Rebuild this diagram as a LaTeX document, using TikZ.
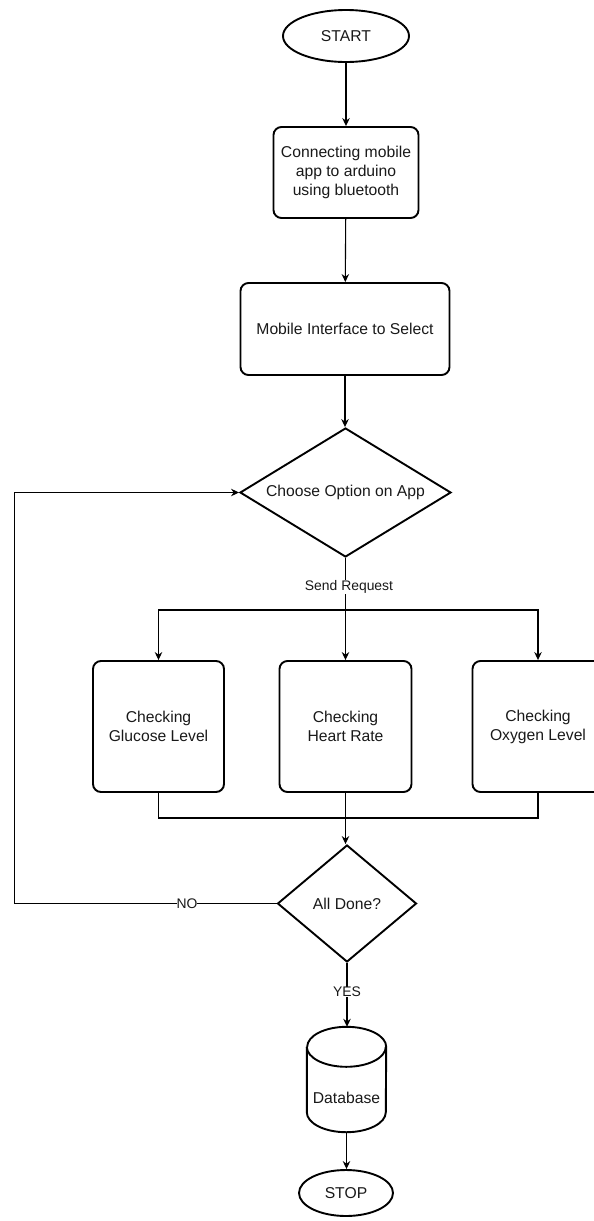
\documentclass[tikz,border=0pt]{standalone}
\usepackage{fontspec}
\setmainfont{Liberation Sans}
\usetikzlibrary{shapes.geometric,arrows.meta}
\begin{document}
\begin{tikzpicture}[x=1pt,y=-1pt,
  shapeline/.style={draw=black,line width=1.9pt},
  boxtext/.style={font=\fontsize{15.7}{19}\selectfont,align=center,text=black!90},
  rbox/.style={shapeline,boxtext,rectangle,rounded corners=8pt,inner sep=0pt},
  oval/.style={shapeline,boxtext,ellipse,inner sep=0pt},
  dia/.style={shapeline,boxtext,diamond,inner sep=0pt},
  conn/.style={draw=black,line width=1.1pt},
  arr/.style={conn,-{Stealth[length=8pt,width=7.5pt]}},
  elabel/.style={font=\fontsize{13.9}{16}\selectfont,fill=white,inner sep=0.5pt,text=black!90}
]
\useasboundingbox (0,0) rectangle (594,1221);
\clip (0,0) rectangle (594,1221);

\node[oval,minimum width=126pt,minimum height=52pt] (start) at (346,36) {START};
\node[rbox,minimum width=145pt,minimum height=91pt] (conn1) at (346,172.5) {Connecting mobile\\app to arduino\\using bluetooth};
\node[rbox,minimum width=209pt,minimum height=92pt] (mob) at (345,329) {Mobile Interface to Select};
\node[dia,aspect=1.64,minimum width=211pt,minimum height=129pt] (choose) at (345.5,492.5) {Choose Option on App};

\node[rbox,minimum width=131pt,minimum height=131pt] (glu) at (158.5,726.5) {Checking\\Glucose Level};
\node[rbox,minimum width=132pt,minimum height=131pt] (heart) at (345.5,726.5) {Checking\\Heart Rate};
\node[rbox,minimum width=131pt,minimum height=131pt] (oxy) at (538,726.5) {Checking\\Oxygen Level};

\node[dia,aspect=1.19,minimum width=139pt,minimum height=117pt] (done) at (347,903.5) {All Done?};

\node[minimum width=79pt,minimum height=105pt,inner sep=0pt] (db) at (346.5,1079.5) {};
\draw[shapeline] ([yshift=-20pt]db.north west) -- ([yshift=20pt]db.south west)
  arc[start angle=180,end angle=360,x radius=39.5pt,y radius=20pt]
  -- ([yshift=-20pt]db.north east)
  arc[start angle=0,end angle=180,x radius=39.5pt,y radius=20pt];
\draw[shapeline] ([yshift=-20pt]db.north west)
  arc[start angle=180,end angle=360,x radius=39.5pt,y radius=20pt];
\node[boxtext] at ([yshift=-18pt]db.center) {Database};

\node[oval,minimum width=94pt,minimum height=46pt] (stop) at (346,1193) {STOP};

% connectors
\draw[arr] (start) -- (conn1);
\draw[arr] (conn1) -- (mob);
\draw[arr] (mob.south) -- (mob.south |- choose.north);
\draw[arr] (choose.south) -- (choose.south |- heart.north);
\node[elabel] at (349,587) {Send Request};
\coordinate (split) at (345.5,610);
\draw[arr] (split) -| (glu.north);
\draw[arr] (split) -| (oxy.north);

\coordinate (join) at (345.5,818);
\draw[conn] (glu.south) |- (join);
\draw[conn] (oxy.south) |- (join);
\draw[arr] (heart.south) -- (heart.south |- done.north);

\coordinate (loopb) at (14.5,903.5);
\draw[arr] (done.west) -- (loopb) |- (choose.west);
\node[elabel,inner sep=0pt] at (187,903.5) {NO};

\draw[arr] (done.south) -- (done.south |- db.north);
\node[elabel] at (347,992) {YES};
\draw[arr] (db.south) -- (db.south |- stop.north);
\end{tikzpicture}
\end{document}
